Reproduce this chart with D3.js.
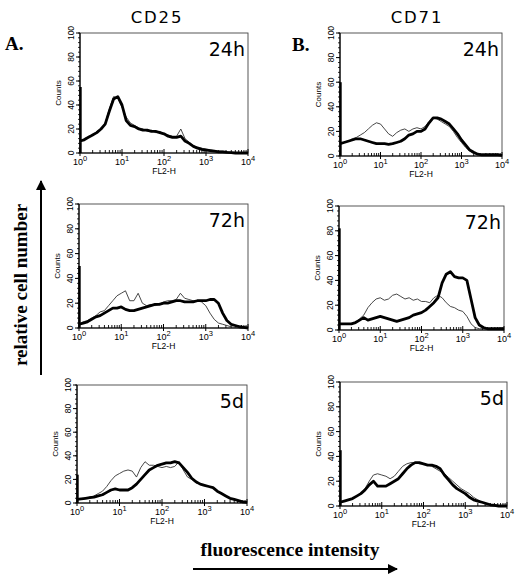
<!DOCTYPE html>
<html><head><meta charset="utf-8">
<script src="https://cdn.jsdelivr.net/npm/d3@7/dist/d3.min.js"></script>
<style>body{margin:0;background:#fff}svg{display:block}</style>
</head><body>
<svg id="c" width="521" height="579"></svg>
<script>
// fluorescence channel positions, in decades (10^0 .. 10^4)
const decades = [0,0.1,0.2,0.3,0.4,0.5,0.6,0.7,0.8,0.9,1.0,1.1,1.2,1.3,1.4,1.5,1.6,1.7,1.8,1.9,2.0,2.1,2.2,2.3,2.4,2.5,2.6,2.7,2.8,2.9,3.0,3.1,3.2,3.3,3.4,3.5,3.6,3.7,3.8,3.9,4.0];
const yTicks = [0,20,40,60,80,100];
const xTickExps = [0,1,2,3,4];
const panelNames = ["CD25 24h","CD71 24h","CD25 72h","CD71 72h","CD25 5d","CD71 5d"];
const timeLabels = ["24h","24h","72h","72h","5d","5d"];
const columnTitles = ["CD25","CD71"];
const firstChannel = [55,60,50,82,24,45];

const cd25_24h_thick = [10,11,13,15,17,20,24,35,45,47,40,27,23,22,20,19,19,18,18,17,16,14,13,13,14,10,8,5.5,4,3,2.5,2,1.5,1,1,0.5,0.3,0,0,0,0];
const cd25_24h_thin  = [9,12,14,15,18,20,25,37,47,46,38,30,25,23,21,20,18,19,17,18,16,15,14,14,20,12,9,6,5,4,3,2.5,2,1.5,1.5,1,0.5,0.3,0,0,0];
const cd71_24h_thick = [10,11,12,13,14,14,13,12,11,10,10,10,9.5,10,11,12,14,17,18,20,20,22,27,31,31,30,28,26,22,18,13,9,5,3,1.5,1,1,1,1,1,0.5];
const cd71_24h_thin  = [10,11,12,14,15,17,19,22,25,27,26,22,18,16,19,21,22,20,22,23,22,24,28,31,30,28,26,24,20,15,11,7,4,2,1.5,1,1,1,0.5,0.5,0.5];
const cd25_72h_thick = [3,4,5,7,9,10,12,14,16,16,17,15,14,14,15,16,17,18,19,19,20,20,21,22,22,21,21,21,22,22,22,23,23,20,12,6,3,2,1,0.5,0];
const cd25_72h_thin  = [3,5,6,8,10,13,14,18,22,26,28,30,22,22,28,20,18,19,18,19,21,22,22,23,28,24,23,22,22,21,18,12,7,4,3,2,1,0.5,0,0,0];
const cd71_72h_thick = [5,5,5,5,6,8,10,8,9,10,11,10,9,8,7,8,9,10,12,13,14,16,19,22,26,38,45,47,43,42,42,40,25,10,4,2,1,1,1,1,1];
const cd71_72h_thin  = [5,5,5,5,6,9,12,18,22,25,26,24,25,28,29,27,25,26,24,25,23,23,22,26,28,26,22,19,18,16,15,11,5,2,1,1,0.5,0.5,0.5,0.5,0.5];
const cd25_5d_thick  = [3,3.5,4,4.5,5,6,7,9,11,12,11,11,11,13,16,20,24,28,30,32,33,34,34,35,34,30,26,21,18,16,15,14,13,10,8,6,4,3,2,1,0.5];
const cd25_5d_thin   = [3,3.5,4,5,6,8,10,14,19,23,25,27,28,27,22,30,35,32,32,31,30,31,30,31,35,28,22,20,17,16,15,14,13,10,8,6,4,3,2,1,0.5];
const cd71_5d_thick  = [3,4,5,6,8,10,13,17,20,16,16,16,18,20,22,26,30,33,35,35,34,33,33,32,30,25,21,17,14,12,10,7,5,4,3,2,1,0.5,0,0,0];
const cd71_5d_thin   = [3,4,5,6,8,10,14,20,25,26,25,24,22,24,28,32,34,35,35,34,34,33,32,30,28,26,23,20,17,14,12,10,7,5,3,2,1,1,0.5,0,0];

const thickSeries = [cd25_24h_thick, cd71_24h_thick, cd25_72h_thick, cd71_72h_thick, cd25_5d_thick, cd71_5d_thick];
const thinSeries  = [cd25_24h_thin, cd71_24h_thin, cd25_72h_thin, cd71_72h_thin, cd25_5d_thin, cd71_5d_thin];

// layout (pixel boxes of each plot frame)
const boxes = [
  {l:80, t:33, r:248, b:153},
  {l:340, t:33, r:502, b:156},
  {l:79, t:204, r:248, b:328},
  {l:339, t:206, r:504, b:330},
  {l:77, t:385, r:247, b:503},
  {l:340, t:382, r:507, b:506}
];

const svg = d3.select("#c");
const sans = "Liberation Sans, Arial, sans-serif";
const dv = "DejaVu Sans, Verdana, sans-serif";
const serif = "Liberation Serif, Times New Roman, serif";

panelNames.forEach((name, i) => {
  const bx = boxes[i];
  const x = d3.scaleLinear().domain([0,4]).range([bx.l, bx.r]);
  const y = d3.scaleLinear().domain([0,100]).range([bx.b, bx.t]);
  const g = svg.append("g").attr("class","panel").attr("data-name", name);

  // frame
  g.append("rect").attr("x", bx.l).attr("y", bx.t).attr("width", bx.r-bx.l).attr("height", bx.b-bx.t)
    .attr("fill","none").attr("stroke","#444").attr("stroke-width",0.9);
  g.append("line").attr("x1", bx.l).attr("x2", bx.l).attr("y1", bx.t).attr("y2", bx.b)
    .attr("stroke","#000").attr("stroke-width",1.2);
  g.append("line").attr("x1", bx.l).attr("x2", bx.r).attr("y1", bx.b).attr("y2", bx.b)
    .attr("stroke","#000").attr("stroke-width",1.2);

  // y axis
  const yMinor = d3.range(0,101,4);
  g.selectAll(".ym").data(yMinor).join("line")
    .attr("x1", bx.l-2).attr("x2", bx.l).attr("y1", d=>y(d)).attr("y2", d=>y(d))
    .attr("stroke","#000").attr("stroke-width",0.8);
  g.selectAll(".yM").data(yTicks).join("line")
    .attr("x1", bx.l-4).attr("x2", bx.l).attr("y1", d=>y(d)).attr("y2", d=>y(d))
    .attr("stroke","#000").attr("stroke-width",1);
  g.selectAll(".yl").data(yTicks).join("text")
    .attr("transform", d=>`translate(${bx.l-9},${y(d)}) rotate(-90)`)
    .attr("text-anchor","middle").attr("dy","0.35em")
    .attr("font-family", sans).attr("font-size", 8.5).text(d=>d);
  g.append("text").attr("transform", `translate(${bx.l-22},${(bx.t+bx.b)/2}) rotate(-90)`)
    .attr("text-anchor","middle").attr("dy","0.35em")
    .attr("font-family", sans).attr("font-size", 8).text("Counts");

  // x axis (log decades with minor ticks)
  const minor = [];
  for (let e=0;e<4;e++) for (let m=2;m<=9;m++) minor.push(e+Math.log10(m));
  g.selectAll(".xm").data(minor).join("line")
    .attr("x1", d=>x(d)).attr("x2", d=>x(d)).attr("y1", bx.b).attr("y2", bx.b-3)
    .attr("stroke","#000").attr("stroke-width",0.9);
  g.selectAll(".xM").data(xTickExps).join("line")
    .attr("x1", d=>x(d)).attr("x2", d=>x(d)).attr("y1", bx.b+3).attr("y2", bx.b-4)
    .attr("stroke","#000").attr("stroke-width",1);
  const xl = g.selectAll(".xl").data(xTickExps).join("text")
    .attr("x", d=>x(d)).attr("y", bx.b+12).attr("text-anchor","middle")
    .attr("font-family", sans).attr("font-size", 9);
  xl.append("tspan").text("10");
  xl.append("tspan").attr("dy",-4).attr("font-size",7.5).text(d=>d);
  g.append("text").attr("x", (bx.l+bx.r)/2).attr("y", bx.b+21).attr("text-anchor","middle")
    .attr("font-family", sans).attr("font-size", 8.5).text("FL2-H");

  // first channel pile-up
  g.append("line").attr("x1", x(0)+0.5).attr("x2", x(0)+0.5).attr("y1", y(0)).attr("y2", y(firstChannel[i]))
    .attr("stroke","#000").attr("stroke-width",2.4);

  const line = d3.line().x((d,k)=>x(decades[k])).y(d=>y(d));
  g.append("path").datum(thinSeries[i]).attr("d", line)
    .attr("fill","none").attr("stroke","#333").attr("stroke-width",0.9);
  g.append("path").datum(thickSeries[i]).attr("d", line)
    .attr("fill","none").attr("stroke","#000").attr("stroke-width",2.8).attr("stroke-linejoin","round");

  // time label
  g.append("text").attr("x", bx.r-3).attr("y", bx.t+23).attr("text-anchor","end")
    .attr("font-family", dv).attr("font-size", 19).text(timeLabels[i]);
});

// column titles
svg.append("text").attr("x",157).attr("y",23).attr("text-anchor","middle")
  .attr("font-family", dv).attr("font-size",16.5).attr("letter-spacing",1.8).text(columnTitles[0]);
svg.append("text").attr("x",417).attr("y",23).attr("text-anchor","middle")
  .attr("font-family", dv).attr("font-size",16.5).attr("letter-spacing",1.8).text(columnTitles[1]);

// panel letters
svg.append("text").attr("x",5).attr("y",50).attr("font-family",serif).attr("font-weight","bold")
  .attr("font-size",19).text("A.");
svg.append("text").attr("x",292).attr("y",51).attr("font-family",serif).attr("font-weight","bold")
  .attr("font-size",19).text("B.");

// axis arrows
const defs = svg.append("defs");
defs.append("marker").attr("id","ah").attr("viewBox","0 0 10 10").attr("refX",9).attr("refY",5)
  .attr("markerWidth",6).attr("markerHeight",5).attr("orient","auto").attr("markerUnits","strokeWidth")
  .append("path").attr("d","M0,0 L10,5 L0,10 Z").attr("fill","#000");
svg.append("line").attr("x1",41).attr("y1",375).attr("x2",41).attr("y2",181)
  .attr("stroke","#000").attr("stroke-width",2).attr("marker-end","url(#ah)");
svg.append("text").attr("transform","translate(27,285) rotate(-90)").attr("text-anchor","middle")
  .attr("font-family",serif).attr("font-weight","bold").attr("font-size",19).text("relative cell number");
svg.append("line").attr("x1",193).attr("y1",569).attr("x2",397).attr("y2",569)
  .attr("stroke","#000").attr("stroke-width",2).attr("marker-end","url(#ah)");
svg.append("text").attr("x",290).attr("y",556).attr("text-anchor","middle")
  .attr("font-family",serif).attr("font-weight","bold").attr("font-size",19.5).text("fluorescence intensity");
</script>
</body></html>
